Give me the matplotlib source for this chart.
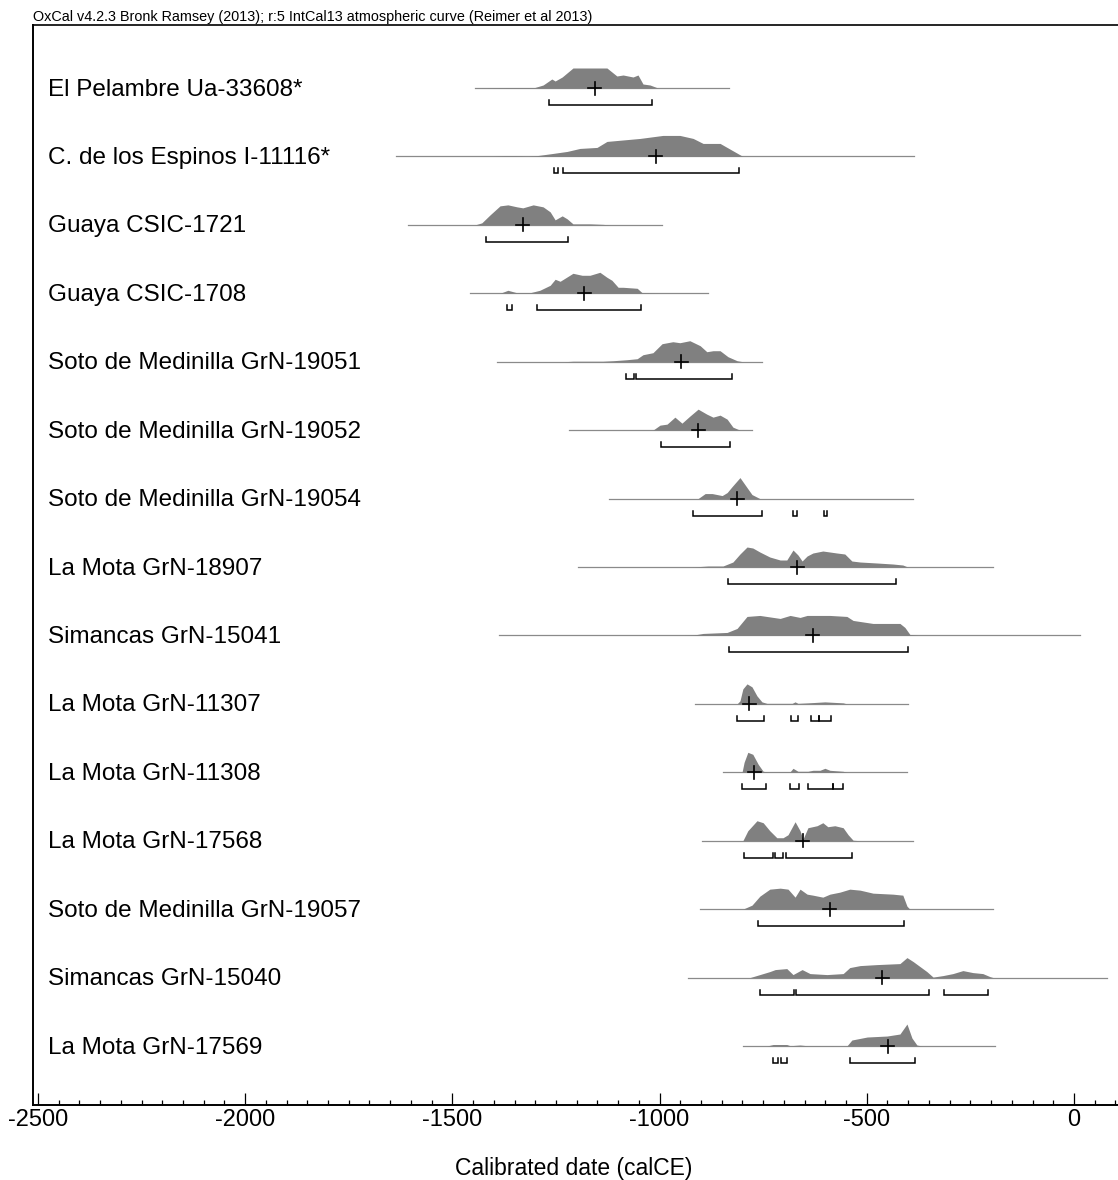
import matplotlib
matplotlib.use("Agg")
import matplotlib.pyplot as plt
from matplotlib.ticker import MultipleLocator
import numpy as np

plt.rcParams['font.family'] = ['Liberation Sans', 'DejaVu Sans']
plt.rcParams['axes.unicode_minus'] = False

title = "OxCal v4.2.3 Bronk Ramsey (2013); r:5 IntCal13 atmospheric curve (Reimer et al 2013)"
xlabel = "Calibrated date (calCE)"

labels = [
    "El Pelambre Ua-33608*",
    "C. de los Espinos I-11116*",
    "Guaya CSIC-1721",
    "Guaya CSIC-1708",
    "Soto de Medinilla GrN-19051",
    "Soto de Medinilla GrN-19052",
    "Soto de Medinilla GrN-19054",
    "La Mota GrN-18907",
    "Simancas GrN-15041",
    "La Mota GrN-11307",
    "La Mota GrN-11308",
    "La Mota GrN-17568",
    "Soto de Medinilla GrN-19057",
    "Simancas GrN-15040",
    "La Mota GrN-17569",
]

line_start = [-1445, -1636, -1607, -1457, -1392, -1219, -1122, -1197, -1387, -915, -847, -898, -903, -931, -799]
line_end = [-832, -386, -994, -883, -753, -777, -388, -195, 14, -401, -403, -388, -195, 80, -191]
medians = [-1156, -1009, -1330, -1182, -948, -907, -813, -668, -630, -784, -772, -654, -589, -463, -449]

hpd_ranges = [
    [(-1267, -1018)],
    [(-1255, -1245), (-1233, -808)],
    [(-1419, -1221)],
    [(-1368, -1356), (-1296, -1045)],
    [(-1081, -1062), (-1057, -825)],
    [(-997, -830)],
    [(-919, -753), (-678, -668), (-603, -596)],
    [(-835, -430)],
    [(-832, -401)],
    [(-813, -748), (-683, -666), (-635, -615), (-615, -586)],
    [(-801, -743), (-685, -664), (-642, -582), (-582, -557)],
    [(-796, -726), (-721, -702), (-695, -536)],
    [(-762, -410)],
    [(-758, -676), (-671, -350), (-314, -208)],
    [(-726, -714), (-707, -693), (-541, -384)],
]

# probability profiles (years, relative density)
yrs_01 = [-1445, -1373, -1301, -1281, -1260, -1252, -1235, -1209, -1127, -1103, -1088, -1064, -1052, -1040, -1023, -1004]
den_01 = [0, 0.5, 0.5, 3, 9, 7, 11, 20, 20, 12, 13, 11, 13, 4, 3, 0]
yrs_02 = [-1400, -1378, -1344, -1320, -1301, -1257, -1223, -1192, -1151, -1127, -1047, -992, -951, -919, -895, -854, -799]
den_02 = [0, 0.5, 0.5, 0, 0.5, 3, 5, 8, 9, 15, 18, 21, 21, 18, 13, 13, 0]
yrs_03 = [-1445, -1429, -1409, -1385, -1366, -1344, -1330, -1305, -1281, -1264, -1252, -1235, -1223, -1209, -1168, -1137, -1120]
den_03 = [0, 2, 10, 19, 20, 18, 17, 20, 18, 13, 5, 9, 6, 1, 1, 0.5, 0]
yrs_04 = [-1385, -1366, -1344, -1313, -1289, -1264, -1252, -1240, -1209, -1187, -1168, -1144, -1127, -1115, -1100, -1088, -1054, -1042, -1006]
den_04 = [0, 3, 0.5, 0.5, 3, 8, 14, 12, 20, 18, 18, 21, 16, 13, 6, 6, 5, 0.5, 0]
yrs_05 = [-1230, -1209, -1137, -1112, -1079, -1054, -1040, -1016, -994, -968, -951, -927, -902, -886, -871, -854, -835, -813, -799]
den_05 = [0, 0.5, 0.5, 1, 2, 3, 7, 9, 18, 20, 19, 21, 16, 10, 11, 11, 5, 1, 0]
yrs_06 = [-1016, -999, -982, -963, -946, -927, -907, -886, -871, -854, -837, -823, -806]
den_06 = [0, 5, 6, 13, 7, 14, 21, 16, 13, 15, 11, 3, 0]
yrs_07 = [-907, -890, -873, -849, -837, -825, -806, -789, -777, -758]
den_07 = [0, 5, 5, 3, 6, 12, 21, 11, 4, 0]
yrs_08 = [-920, -902, -883, -847, -823, -806, -789, -775, -758, -734, -709, -693, -678, -666, -656, -644, -630, -606, -589, -572, -553, -536, -516, -475, -437, -413, -401]
den_08 = [0, 0.5, 1, 1, 5, 13, 20, 19, 15, 10, 7, 7, 17, 12, 6, 11, 14, 16, 15, 14, 13, 6, 5, 4, 3, 2, 0]
yrs_09 = [-940, -919, -895, -837, -813, -789, -758, -709, -685, -661, -644, -589, -548, -533, -485, -420, -408, -396, -379]
den_09 = [0, 0.3, 2, 3, 7, 19, 20, 17, 20, 18, 20, 20, 19, 15, 12, 12, 8, 1, 0]
yrs_10 = [-813, -806, -799, -789, -777, -765, -753, -741, -680, -673, -666, -642, -601, -557, -548]
den_10 = [0, 3, 15, 20, 17, 8, 2, 0.5, 0.5, 2, 0.5, 1, 2, 1, 0]
yrs_11 = [-801, -796, -787, -775, -762, -750, -738, -685, -678, -666, -642, -630, -613, -601, -589, -557, -548]
den_11 = [0, 10, 20, 18, 8, 1, 0.3, 0.5, 4, 1, 1, 2, 2, 4, 2, 1, 0]
yrs_12 = [-799, -787, -765, -750, -734, -717, -702, -690, -673, -661, -654, -642, -620, -606, -594, -577, -557, -545, -533, -516]
den_12 = [0, 10, 20, 18, 10, 3, 3, 6, 19, 10, 1.5, 13, 15, 18, 14, 15, 13, 6, 0.5, 0]
yrs_13 = [-799, -777, -758, -734, -709, -690, -673, -661, -644, -630, -606, -589, -565, -541, -516, -485, -437, -413, -403, -396]
den_13 = [0, 4, 13, 20, 21, 20, 12, 20, 15, 14, 12, 15, 17, 20, 19, 16, 15, 14, 3, 0]
yrs_14 = [-782, -758, -734, -721, -693, -678, -656, -637, -596, -557, -541, -516, -475, -420, -403, -388, -355, -340, -316, -292, -268, -244, -220, -203, -195]
den_14 = [0, 3, 6, 8, 9, 3, 8, 4, 3, 4, 10, 12, 13, 14, 20, 16, 6, 0.5, 2, 4, 7, 5, 4, 1, 0]
yrs_15 = [-741, -726, -693, -685, -661, -644, -548, -536, -499, -451, -420, -403, -391, -379, -367]
den_15 = [0, 1.5, 1.5, 0.3, 1, 0.3, 0, 6, 9, 10, 12, 22, 8, 1, 0]

profile_years = [yrs_01, yrs_02, yrs_03, yrs_04, yrs_05, yrs_06, yrs_07, yrs_08,
                 yrs_09, yrs_10, yrs_11, yrs_12, yrs_13, yrs_14, yrs_15]
profile_dens = [den_01, den_02, den_03, den_04, den_05, den_06, den_07, den_08,
                den_09, den_10, den_11, den_12, den_13, den_14, den_15]

xticks_major = [-2500, -2000, -1500, -1000, -500, 0]

# ---------------- drawing ----------------
W, H = 1118, 1180
fig = plt.figure(figsize=(W / 100, H / 100), dpi=100)

ax_top_px, ax_bot_px = 25, 1105
ax_left_px, ax_right_px = 33, 1140
ax = fig.add_axes([ax_left_px / W, (H - ax_bot_px) / H,
                   (ax_right_px - ax_left_px) / W, (ax_bot_px - ax_top_px) / H])

PX_PER_YEAR = 0.4144
ROW_PX = 68.43
first_row_px = 88
x0 = -2512
ax.set_xlim(x0, x0 + (ax_right_px - ax_left_px) / PX_PER_YEAR)
ax.set_ylim((ax_bot_px - first_row_px) / ROW_PX, (ax_top_px - first_row_px) / ROW_PX)

u = 1.0 / ROW_PX  # one pixel in row units
fill_col = '#808080'

for i in range(len(labels)):
    ax.plot([line_start[i], line_end[i]], [i, i], color='#8a8a8a', lw=0.9, zorder=2)
    yr = np.array(profile_years[i], dtype=float)
    d = np.array(profile_dens[i], dtype=float)
    ax.fill_between(yr, i, i - d * u, color=fill_col, lw=0, zorder=3)
    # brackets
    yb = i + 17 * u
    yt = yb - 5 * u
    for a, b in hpd_ranges[i]:
        ax.plot([a, a, b, b], [yt, yb, yb, yt], color='black', lw=1.1,
                solid_joinstyle='miter', zorder=4)
    # cross
    m = medians[i]
    hw = 6.5 / PX_PER_YEAR
    ax.plot([m - hw, m + hw], [i, i], color='black', lw=1.2, zorder=5)
    ax.plot([m, m], [i - 6.5 * u, i + 6.5 * u], color='black', lw=1.2, zorder=5)
    ax.text(-2476, i + 1.5 * u, labels[i], va='center', ha='left', fontsize=17.5, zorder=6)

ax.set_xticks(xticks_major)
ax.set_xticklabels([str(t) for t in xticks_major])
ax.xaxis.set_minor_locator(MultipleLocator(50))
ax.tick_params(axis='x', which='major', direction='in', length=8.6, width=0.9,
               labelsize=17, pad=3, top=False)
ax.tick_params(axis='x', which='minor', direction='in', length=3.6, width=0.9, top=False)
ax.set_yticks([])
ax.spines['right'].set_visible(False)
ax.spines['left'].set_linewidth(1.4)
ax.spines['bottom'].set_linewidth(1.4)
ax.spines['top'].set_linewidth(1.2)

fig.text(33 / W, 1 - 21 / H, title, fontsize=10.4, ha='left', va='baseline')
fig.text(574 / W, 1 - 1168 / H, xlabel, fontsize=16.5, ha='center', va='center')

fig.savefig('out.png', dpi=100)
